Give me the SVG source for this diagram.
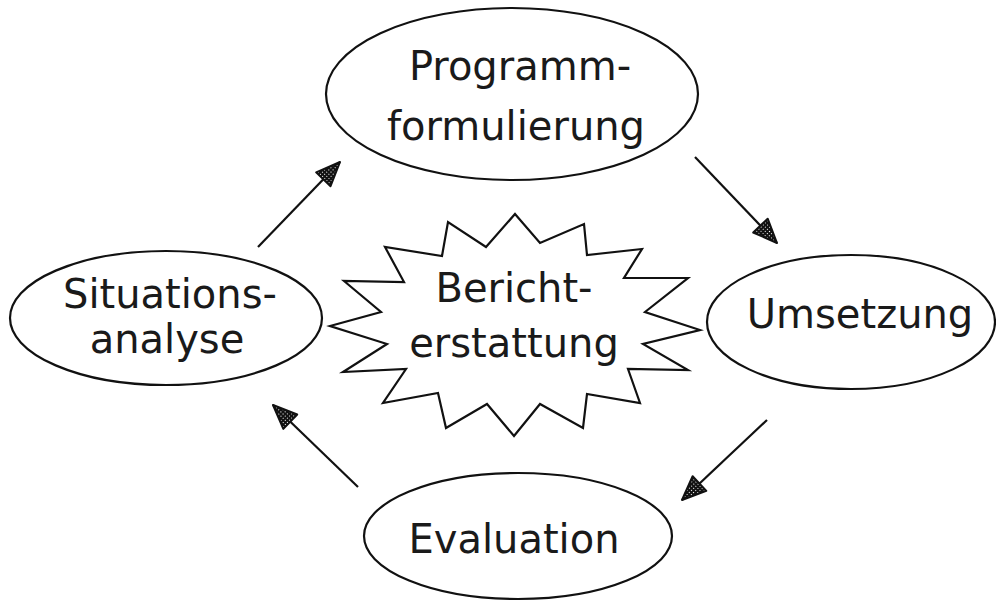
<svg xmlns="http://www.w3.org/2000/svg" width="996" height="609" viewBox="0 0 996 609">
<defs>
<pattern id="chk" width="3" height="3" patternUnits="userSpaceOnUse">
<rect width="3" height="3" fill="#111"/>
<rect x="1" y="1" width="1" height="1" fill="#fff"/>
</pattern>
<marker id="arr" markerUnits="userSpaceOnUse" markerWidth="30" markerHeight="26" viewBox="0 0 30 26" refX="27" refY="13" orient="auto">
<path d="M3,3 L27,13 L3,23 Z" fill="url(#chk)" stroke="#111" stroke-width="2" stroke-linejoin="round"/>
</marker>
<style>
.shape{fill:#fff;stroke:#111;stroke-width:2.2}
.lbl{font-family:"DejaVu Sans","Liberation Sans",sans-serif;font-size:40px;fill:#1a1a1a;text-anchor:middle}
.conn{stroke:#111;stroke-width:2.2;fill:none;marker-end:url(#arr)}
</style>
</defs>
<rect width="996" height="609" fill="#fff"/>
<g id="connectors">
<line class="conn" x1="258" y1="247" x2="340" y2="162"/>
<line class="conn" x1="695" y1="157" x2="777" y2="243"/>
<line class="conn" x1="767" y1="420" x2="682" y2="500"/>
<line class="conn" x1="358" y1="487" x2="273" y2="405"/>
</g>
<g id="programmformulierung">
<ellipse class="shape" cx="512" cy="94" rx="186" ry="86"/>
<text class="lbl" x="520" y="80">Programm-</text>
<text class="lbl" x="516" y="140">formulierung</text>
</g>
<g id="umsetzung">
<ellipse class="shape" cx="851" cy="322" rx="144" ry="67"/>
<text class="lbl" x="860" y="328">Umsetzung</text>
</g>
<g id="evaluation">
<ellipse class="shape" cx="518" cy="536" rx="154" ry="63"/>
<text class="lbl" x="514" y="553">Evaluation</text>
</g>
<g id="situationsanalyse">
<ellipse class="shape" cx="166" cy="318" rx="156" ry="67"/>
<text class="lbl" x="170" y="308">Situations-</text>
<text class="lbl" x="167" y="353">analyse</text>
</g>
<g id="berichterstattung">
<polygon class="shape" stroke-linejoin="miter" points="515,214 540,243 584,224 587,255 642,249 624,278 688,278 645,312 700,330 643,344 688,370 628,369 640,403 587,394 583,428 540,404 514,436 487,404 446,428 438,393 383,403 406,369 343,372 387,344 330,326 381,312 344,281 404,282 385,247 442,256 448,222 486,247"/>
<text class="lbl" x="514" y="302">Bericht-</text>
<text class="lbl" x="514" y="357">erstattung</text>
</g>
</svg>
